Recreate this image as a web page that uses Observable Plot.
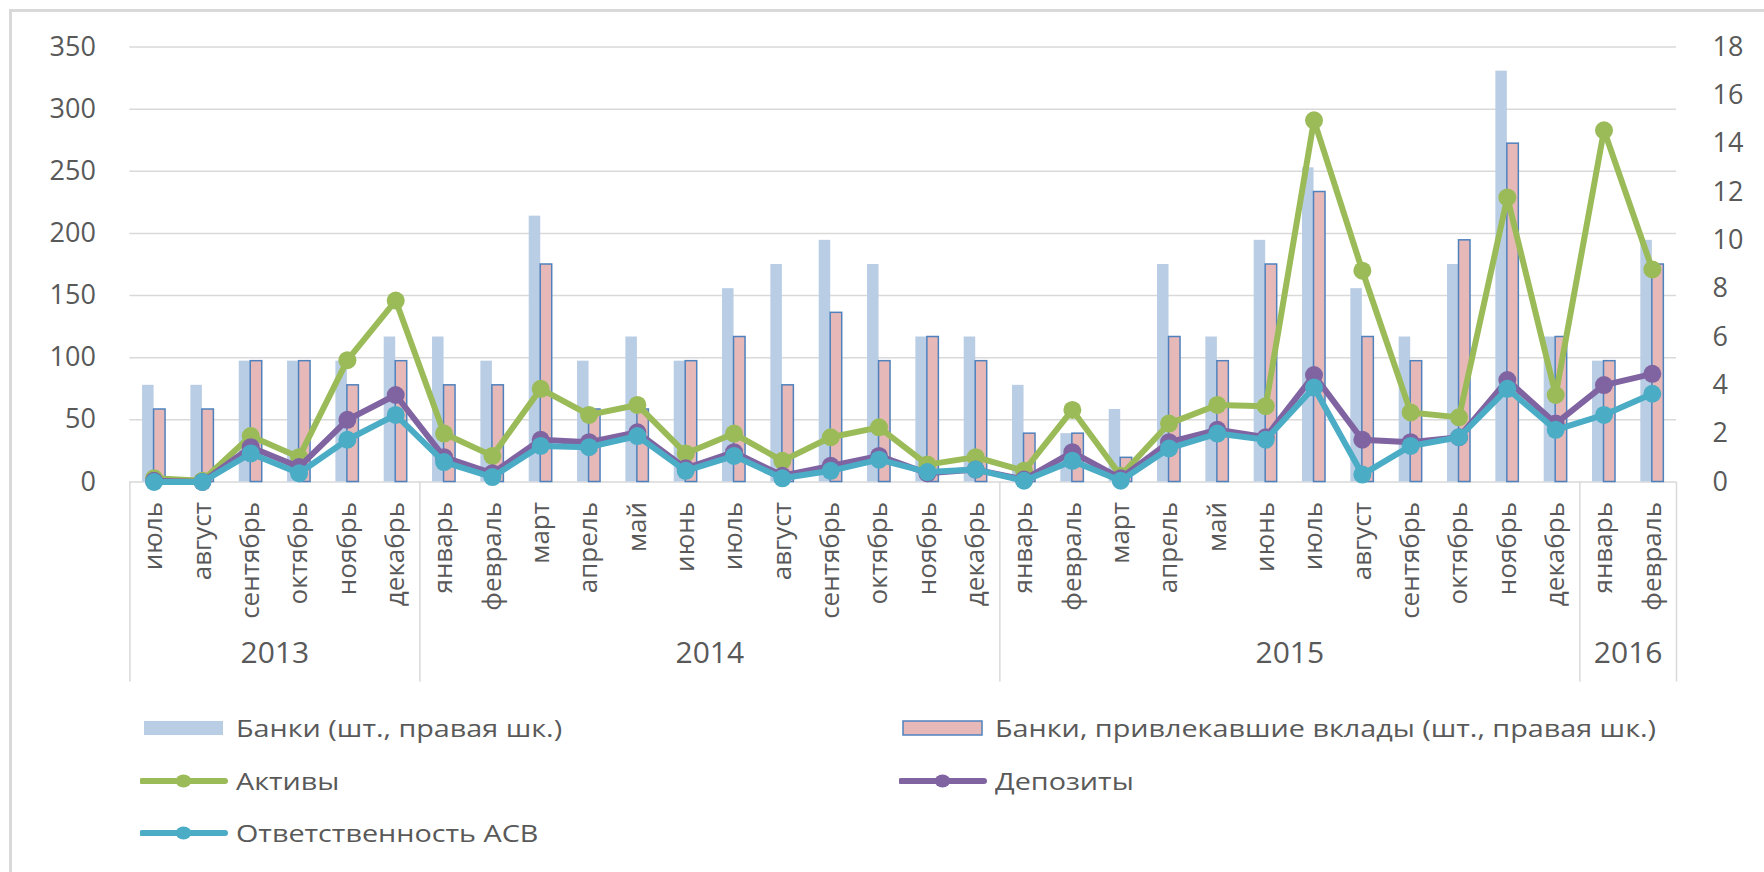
<!DOCTYPE html>
<html>
<head>
<meta charset="utf-8">
<script src="https://cdn.jsdelivr.net/npm/d3@7"></script>
<script src="https://cdn.jsdelivr.net/npm/@observablehq/plot@0.6"></script>
<style>
  html, body { margin: 0; padding: 0; background: #fff; width: 1764px; height: 872px; overflow: hidden; }
  #frame { position: absolute; left: 9px; top: 9px; width: 1800px; height: 900px; border-left: 3px solid #d9d9d9; border-top: 3px solid #d9d9d9; box-sizing: border-box; pointer-events: none; }
  #chart { position: relative; width: 1764px; height: 700px; }
  #chart svg { position: absolute; left: 0; top: 0; }
  #legend { position: relative; padding-top: 2px; font-family: "Open Sans", sans-serif; font-size: 23px; color: #595959; }
  .row { position: relative; height: 52.5px; }
  .item { position: absolute; top: 0; height: 52.5px; display: flex; align-items: center; white-space: nowrap; }
  .item svg { flex: none; }
  .item span { display: inline-block; transform: scaleX(1.25); transform-origin: left center; }
</style>
</head>
<body>
<div id="chart"></div>
<div id="legend"></div>
<div id="frame"></div>
<script>
// ---- data ----
const months = [
  "июль","август","сентябрь","октябрь","ноябрь","декабрь",
  "январь","февраль","март","апрель","май","июнь","июль","август","сентябрь","октябрь","ноябрь","декабрь",
  "январь","февраль","март","апрель","май","июнь","июль","август","сентябрь","октябрь","ноябрь","декабрь",
  "январь","февраль"
];
const yearNames = ["2013", "2014", "2015", "2016"];
const yearCounts = [6, 12, 12, 2];

// bars, right axis (pieces)
const banks        = [4,4,5,5,5,6, 6,5,11,5,6,5,8,9,10,9,6,6, 4,2,3,9,6,10,13,8,6,9,17,6, 5,10];
const depositBanks = [3,3,5,5,4,5, 4,4,9,3,3,5,6,4,7,5,6,5, 2,2,1,6,5,9,12,6,5,10,14,6, 5,9];
// lines, left axis
const assets    = [3,1,37,20,98,146, 39,21,75,54,62,23,39,17,36,44,14,20, 9,58,5,47,62,61,291,170,56,52,229,70, 283,171];
const deposits  = [1,0,28,12,50,70, 20,7,34,32,40,11,24,5,13,21,7,10, 2,24,3,32,42,36,86,34,32,36,82,47, 78,87];
const liability = [0,0,23,7,34,54, 16,4,29,28,37,9,21,3,9,18,8,10, 1,17,1,27,39,34,76,6,29,36,75,42, 54,71];

const leftTicks = [0, 50, 100, 150, 200, 250, 300, 350];
const rightTicks = [0, 2, 4, 6, 8, 10, 12, 14, 16, 18];

const seriesNames = {
  banks: "Банки (шт., правая шк.)",
  depositBanks: "Банки, привлекавшие вклады (шт., правая шк.)",
  assets: "Активы",
  deposits: "Депозиты",
  liability: "Ответственность АСВ"
};
const colors = {
  banks: "#B9CDE5",
  depositBanks: "#E6B9B8",
  depositBorder: "#4F81BD",
  assets: "#9BBB59",
  deposits: "#8064A2",
  liability: "#4BACC6",
  grid: "#d9d9d9",
  text: "#595959"
};

// ---- derived table ----
const yearOfMonth = yearNames.flatMap((y, i) => Array(yearCounts[i]).fill(y));
const keys = months.map((m, i) => yearOfMonth[i] + " " + m + " " + i);
const rows = keys.map((key, i) => ({
  key, month: months[i],
  banks: banks[i], depositBanks: depositBanks[i],
  assets: assets[i], deposits: deposits[i], liability: liability[i]
}));
let acc = 0;
const yearStarts = yearCounts.map(c => { const s = acc; acc += c; return s; });
const boundaryKeys = yearStarts.map(s => keys[s]);
const yearLabelRows = yearNames.map((y, i) => ({year: y, key: keys[yearStarts[i] + yearCounts[i] / 2]}));

// ---- layout ----
const W = 1764, H = 700;
const mL = 129.4, mR = 88, mT = 46.5, mB = 218.5;
const step = (W - mL - mR) / keys.length;
const bw = 23;
const pInner = 1 - bw / step;
const plotH = H - mT - mB;
const xOpts = {type: "band", domain: keys, paddingInner: pInner, paddingOuter: pInner / 2, round: false};
const base = {width: W, height: H, marginLeft: mL, marginRight: mR, marginTop: mT, marginBottom: mB,
  style: {fontFamily: "'Open Sans', sans-serif", color: colors.text, background: "transparent", overflow: "visible"}};

const belowPx = 200;
const leftMax = leftTicks[leftTicks.length - 1];
const rightMax = rightTicks[rightTicks.length - 1];

// Layer 1: grid, left axis, category axis
const layer1 = Plot.plot({
  ...base,
  x: xOpts,
  y: {domain: [0, leftMax]},
  marks: [
    Plot.gridY(leftTicks, {stroke: colors.grid, strokeOpacity: 1, strokeWidth: 1.5}),
    Plot.axisY(leftTicks, {tickSize: 0, tickPadding: 34, fontSize: 27, label: null}),
    Plot.axisX({tickSize: 0, tickPadding: 20, tickRotate: -90, fontSize: 26, label: null,
      tickFormat: k => k.split(" ")[1]}),
    Plot.ruleX(boundaryKeys, {x: d => d, dx: -step / 2, y1: 0, y2: -belowPx * leftMax / plotH,
      stroke: colors.grid, strokeWidth: 1.5}),
    Plot.ruleX([keys[keys.length - 1]], {x: d => d, dx: step / 2, y1: 0, y2: -belowPx * leftMax / plotH,
      stroke: colors.grid, strokeWidth: 1.5}),
    Plot.text(yearLabelRows, {x: "key", text: "year", frameAnchor: "bottom", dx: -step / 2, dy: 180.5,
      fontSize: 30, fill: colors.text})
  ]
});

// Layer 2: bars on the right-hand scale
const layer2 = Plot.plot({
  ...base,
  x: {...xOpts, axis: null},
  y: {domain: [0, rightMax]},
  marks: [
    Plot.barY(rows, {x: "key", y: "banks", fill: colors.banks, insetRight: bw / 2}),
    Plot.barY(rows, {x: "key", y: "depositBanks", fill: colors.depositBanks, stroke: colors.depositBorder,
      strokeWidth: 1.5, insetLeft: bw / 2}),
    Plot.axisY(rightTicks, {anchor: "right", tickSize: 0, tickPadding: 36, fontSize: 27, label: null})
  ]
});

// Layer 3: lines on the left-hand scale
const lineSeries = ["assets", "deposits", "liability"];
const layer3 = Plot.plot({
  ...base,
  x: {...xOpts, axis: null},
  y: {domain: [0, leftMax], axis: null},
  marks: lineSeries.flatMap(s => [
    Plot.line(rows, {x: "key", y: s, stroke: colors[s], strokeWidth: 6, strokeLinejoin: "round"}),
    Plot.dot(rows, {x: "key", y: s, r: 9, fill: colors[s], stroke: "none"})
  ])
});

const chart = document.getElementById("chart");
chart.append(layer1, layer2, layer3);

// ---- legend ----
const legendRows = [
  [{k: "banks", t: "bar"}, {k: "depositBanks", t: "bar"}],
  [{k: "assets", t: "line"}, {k: "deposits", t: "line"}],
  [{k: "liability", t: "line"}]
];
const colLeft = [140, 899];
function swatch(it) {
  const ns = "http://www.w3.org/2000/svg";
  const svg = document.createElementNS(ns, "svg");
  svg.setAttribute("width", 96); svg.setAttribute("height", 24);
  if (it.t === "bar") {
    const r = document.createElementNS(ns, "rect");
    r.setAttribute("x", 4); r.setAttribute("y", 5); r.setAttribute("width", 79); r.setAttribute("height", 14);
    r.setAttribute("fill", colors[it.k]);
    if (it.k === "depositBanks") { r.setAttribute("stroke", colors.depositBorder); r.setAttribute("stroke-width", 1.5); }
    svg.appendChild(r);
  } else {
    const l = document.createElementNS(ns, "line");
    l.setAttribute("x1", 2); l.setAttribute("x2", 85); l.setAttribute("y1", 12); l.setAttribute("y2", 12);
    l.setAttribute("stroke", colors[it.k]); l.setAttribute("stroke-width", 6); l.setAttribute("stroke-linecap", "round");
    const c = document.createElementNS(ns, "ellipse");
    c.setAttribute("cx", 43.5); c.setAttribute("cy", 12); c.setAttribute("rx", 8); c.setAttribute("ry", 6.5);
    c.setAttribute("fill", colors[it.k]);
    svg.append(l, c);
  }
  return svg;
}
const legend = document.getElementById("legend");
legendRows.forEach(items => {
  const row = document.createElement("div");
  row.className = "row";
  items.forEach((it, j) => {
    const d = document.createElement("div");
    d.className = "item";
    d.style.left = colLeft[j] + "px";
    const span = document.createElement("span");
    span.textContent = seriesNames[it.k];
    d.append(swatch(it), span);
    row.appendChild(d);
  });
  legend.appendChild(row);
});
</script>
</body>
</html>
